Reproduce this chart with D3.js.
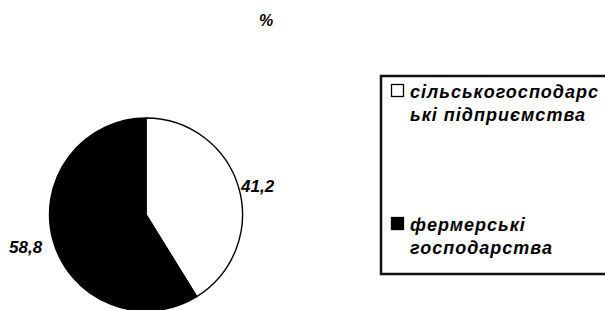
<!DOCTYPE html>
<html><head><meta charset="utf-8">
<script src="https://cdn.jsdelivr.net/npm/d3@7/dist/d3.min.js"></script>
<style>html,body{margin:0;padding:0;background:#fff;}svg{display:block;}</style>
</head><body>
<svg id="chart" width="605" height="310"></svg>
<script>
const categories = ["сільськогосподарські підприємства", "фермерські господарства"];
const legendLines = [["сільськогосподарс", "ькі підприємства"], ["фермерські", "господарства"]];
const values = [41.2, 58.8];
const valueLabels = ["41,2", "58,8"];
const colors = ["#ffffff", "#000000"];
const unitLabel = "%";

const svg = d3.select("#chart");
const font = "'Liberation Sans', Arial, sans-serif";

svg.append("text").attr("x", 266).attr("y", 26).attr("text-anchor", "middle")
  .attr("font-family", font).attr("font-weight", "bold").attr("font-style", "italic")
  .attr("font-size", 16).text(unitLabel);

const cx = 146, cy = 214.5, r = 96.5;
const pie = d3.pie().sort(null).value(d => d)(values);
const arc = d3.arc().innerRadius(0).outerRadius(r);
const g = svg.append("g").attr("transform", `translate(${cx},${cy})`);
g.selectAll("path").data(pie).join("path")
  .attr("d", arc).attr("fill", (d, i) => colors[i])
  .attr("stroke", "#000").attr("stroke-width", 1.4);

// value labels
const labelPos = [{x: 241, y: 192, anchor: "start"}, {x: 9, y: 253, anchor: "start"}];
svg.selectAll("text.val").data(valueLabels).join("text").attr("class", "val")
  .attr("x", (d, i) => labelPos[i].x).attr("y", (d, i) => labelPos[i].y)
  .attr("text-anchor", (d, i) => labelPos[i].anchor)
  .attr("font-family", font).attr("font-weight", "bold").attr("font-style", "italic")
  .attr("font-size", 17).text(d => d);

// legend
const lg = svg.append("g");
lg.append("rect").attr("x", 381).attr("y", 76).attr("width", 240).attr("height", 198)
  .attr("fill", "#fff").attr("stroke", "#111").attr("stroke-width", 2.5);
const itemY = [84, 217];
categories.forEach((c, i) => {
  lg.append("rect").attr("x", 391.5).attr("y", itemY[i] + 0.5).attr("width", 12).attr("height", 12)
    .attr("fill", colors[i]).attr("stroke", "#000").attr("stroke-width", 1.3);
  legendLines[i].forEach((line, j) => {
    lg.append("text").attr("x", 410).attr("y", itemY[i] + 14 + j * 23)
      .attr("font-family", font).attr("font-weight", "bold").attr("font-style", "italic")
      .attr("font-size", 18).attr("letter-spacing", 1).text(line);
  });
});
</script>
</body></html>
